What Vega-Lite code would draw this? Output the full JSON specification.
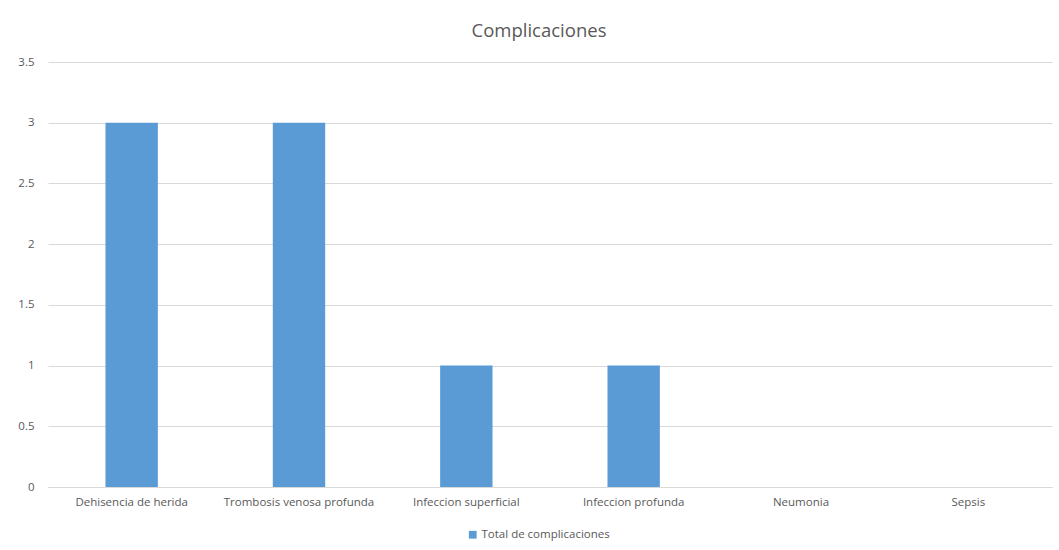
{
  "$schema": "https://vega.github.io/schema/vega-lite/v6.json",
  "autosize": "none",
  "width": 1004,
  "height": 425,
  "padding": {"left": 48, "top": 62, "right": 7, "bottom": 63},
  "background": "white",
  "title": {
    "text": "Complicaciones",
    "font": "Open Sans",
    "fontSize": 18.5,
    "fontWeight": "normal",
    "color": "#595959",
    "anchor": "middle",
    "dx": -11,
    "offset": 16
  },
  "data": {
    "values": [
      {"categoria": "Dehisencia de herida", "serie": "Total de complicaciones", "valor": 3},
      {"categoria": "Trombosis venosa profunda", "serie": "Total de complicaciones", "valor": 3},
      {"categoria": "Infeccion superficial", "serie": "Total de complicaciones", "valor": 1},
      {"categoria": "Infeccion profunda", "serie": "Total de complicaciones", "valor": 1},
      {"categoria": "Neumonia", "serie": "Total de complicaciones", "valor": 0},
      {"categoria": "Sepsis", "serie": "Total de complicaciones", "valor": 0}
    ]
  },
  "mark": {"type": "bar"},
  "encoding": {
    "x": {
      "field": "categoria",
      "type": "nominal",
      "sort": null,
      "title": null,
      "scale": {"paddingInner": 0.687, "paddingOuter": 0.3435},
      "axis": {
        "labelAngle": 0,
        "labelFont": "Open Sans",
        "labelFontSize": 11.5,
        "labelColor": "#595959",
        "labelPadding": 9,
        "ticks": false,
        "domainColor": "#d9d9d9",
        "grid": false
      }
    },
    "y": {
      "field": "valor",
      "type": "quantitative",
      "title": null,
      "scale": {"domain": [0, 3.5]},
      "axis": {
        "values": [0, 0.5, 1, 1.5, 2, 2.5, 3, 3.5],
        "format": "~g",
        "labelFont": "Open Sans",
        "labelFontSize": 11.5,
        "labelColor": "#595959",
        "labelPadding": 14,
        "ticks": false,
        "domain": false,
        "gridColor": "#d9d9d9"
      }
    },
    "color": {
      "field": "serie",
      "type": "nominal",
      "scale": {"range": ["#5b9bd5"]},
      "legend": {
        "title": null,
        "orient": "none",
        "legendX": 419,
        "legendY": 467,
        "direction": "horizontal",
        "symbolType": "square",
        "symbolSize": 60,
        "labelFont": "Open Sans",
        "labelFontSize": 11.5,
        "labelColor": "#595959",
        "labelOffset": 3
      }
    }
  },
  "config": {
    "view": {"stroke": null}
  }
}
